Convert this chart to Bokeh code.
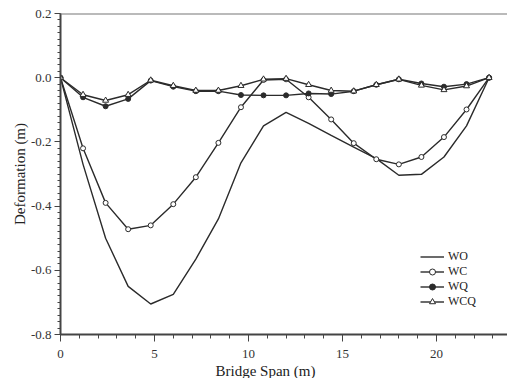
from bokeh.plotting import figure
from bokeh.models import (Range1d, Span, Legend, LegendItem, Title,
                          FixedTicker, CustomJSTickFormatter)
from bokeh.embed import file_html
from bokeh.resources import INLINE

span_m = [0, 1.2, 2.4, 3.6, 4.8, 6.0, 7.2, 8.4, 9.6, 10.8, 12.0, 13.2, 14.4,
          15.6, 16.8, 18.0, 19.2, 20.4, 21.6, 22.8]
wo = [0, -0.27, -0.50, -0.65, -0.705, -0.675, -0.565, -0.44, -0.265, -0.15,
      -0.108, -0.142, -0.18, -0.216, -0.252, -0.304, -0.301, -0.247, -0.15, 0]
wc = [0, -0.22, -0.39, -0.472, -0.46, -0.394, -0.31, -0.203, -0.092, -0.007,
      -0.005, -0.061, -0.13, -0.204, -0.254, -0.27, -0.247, -0.185, -0.099, 0]
wq = [0, -0.061, -0.089, -0.066, -0.009, -0.028, -0.042, -0.042, -0.054, -0.055,
      -0.055, -0.049, -0.051, -0.042, -0.022, -0.005, -0.018, -0.028, -0.02, 0]
wcq = [0, -0.053, -0.071, -0.053, -0.008, -0.025, -0.04, -0.04, -0.025, -0.005,
       -0.003, -0.022, -0.04, -0.042, -0.022, -0.005, -0.024, -0.038, -0.026, 0]
x_ticks = [0, 5, 10, 15, 20]
y_ticks = [-0.8, -0.6, -0.4, -0.2, 0.0, 0.2]

FONT = "Liberation Serif"
INK = "#2b2b2b"

p = figure(width=507, height=378, output_backend="svg", toolbar_location=None,
           x_range=Range1d(0, 23.78), y_range=Range1d(-0.8, 0.2),
           min_border_left=60, min_border_top=13, min_border_right=0,
           min_border_bottom=0)
p.outline_line_color = None
p.grid.visible = False
p.background_fill_color = "white"

for ax in (p.xaxis[0], p.yaxis[0]):
    ax.axis_line_color = "#444444"
    ax.axis_line_width = 2
    ax.major_tick_line_color = "#444444"
    ax.minor_tick_line_color = "#444444"
    ax.major_tick_in = 0
    ax.minor_tick_in = 0
    ax.major_label_text_font = FONT
    ax.major_label_text_font_size = "13px"
    ax.major_label_text_color = "#333333"
    ax.axis_label_text_font = FONT
    ax.axis_label_text_font_size = "15px"
    ax.axis_label_text_font_style = "normal"
    ax.axis_label_text_color = "#222222"

p.xaxis.ticker = FixedTicker(ticks=x_ticks, minor_ticks=list(range(0, 24)))
p.xaxis.major_tick_out = 7
p.xaxis.minor_tick_out = 4
p.xaxis.major_label_standoff = 8

p.yaxis.ticker = FixedTicker(ticks=y_ticks,
                             minor_ticks=[round(-0.8 + 0.02 * i, 2) for i in range(51)])
p.yaxis.major_tick_out = 6
p.yaxis.minor_tick_out = 3
p.yaxis.major_label_standoff = 3
p.yaxis.formatter = CustomJSTickFormatter(code="return tick.toFixed(1);")
p.yaxis.axis_label = "Deformation (m)"
p.yaxis.axis_label_standoff = 0

# top border line
p.add_layout(Span(location=0.2, dimension="width", line_color="#777777", line_width=2))

# x-axis title, placed below the axis
p.add_layout(Title(text="Bridge Span (m)", align="left", offset=155, standoff=0,
                   text_font=FONT, text_font_size="15px", text_font_style="normal",
                   text_color="#222222"), "below")

lw = 1.4
r_wo = p.line(span_m, wo, line_color=INK, line_width=lw)
r_wc = p.line(span_m, wc, line_color=INK, line_width=lw)
m_wc = p.scatter(span_m, wc, marker="circle", size=5, fill_color="white",
                 line_color=INK, line_width=1)
r_wq = p.line(span_m, wq, line_color=INK, line_width=lw)
m_wq = p.scatter(span_m, wq, marker="circle", size=5, fill_color=INK,
                 line_color=INK, line_width=1)
r_wcq = p.line(span_m, wcq, line_color=INK, line_width=lw)
m_wcq = p.scatter(span_m, wcq, marker="triangle", size=6, fill_color="white",
                  line_color=INK, line_width=1)

legend = Legend(items=[
    LegendItem(label="WO", renderers=[r_wo]),
    LegendItem(label="WC", renderers=[r_wc, m_wc]),
    LegendItem(label="WQ", renderers=[r_wq, m_wq]),
    LegendItem(label="WCQ", renderers=[r_wcq, m_wcq]),
], location=(360, 25), padding=0, margin=0, spacing=0,
   glyph_width=24, glyph_height=15, label_height=15, label_standoff=4,
   label_text_font=FONT, label_text_font_size="12px", label_text_color="#222222",
   border_line_color=None, background_fill_alpha=0)
p.add_layout(legend)

open("out.html", "w").write(file_html(p, INLINE))
